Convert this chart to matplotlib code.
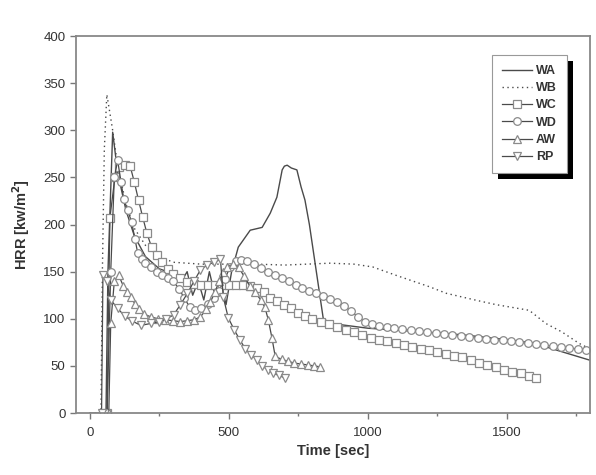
import numpy as np
import matplotlib.pyplot as plt
from matplotlib.patches import Rectangle
from matplotlib.ticker import MultipleLocator

plt.rcParams['font.family'] = ['Liberation Sans', 'DejaVu Sans']

# WA - solid line
wa_t = [0, 50, 58, 65, 82, 100, 130, 160, 200, 250, 300, 330, 350, 370, 390, 410,
        430, 450, 470, 490, 510, 534, 577, 620, 649, 673, 692, 700, 710, 725, 745,
        760, 774, 790, 821, 840, 870, 1000, 1100, 1200, 1340, 1500, 1600, 1699, 1800]
wa_v = [0, 0, 0, 150, 298, 255, 215, 188, 166, 153, 148, 140, 150, 125, 140, 120,
        150, 125, 140, 115, 150, 176, 194, 197, 212, 229, 258, 262, 263, 260, 258,
        240, 226, 200, 138, 100, 95, 90, 88, 86, 83, 78, 74, 65, 56]

# WB - dotted line
wb_t = [0, 40, 45, 52, 61, 70, 82, 100, 130, 160, 200, 250, 300, 400, 500, 600,
        700, 864, 950, 1018, 1103, 1222, 1283, 1400, 1462, 1581, 1641, 1699, 1760, 1800]
wb_v = [0, 0, 150, 280, 338, 322, 300, 262, 222, 196, 178, 166, 160, 158, 158, 158,
        157, 159, 158, 155, 146, 134, 127, 119, 115, 109, 95, 86, 74, 68]

# WC - squares
wc_t = [62, 72, 90, 105, 125, 145, 160, 175, 190, 205, 222, 240, 260, 280, 300, 325,
        350, 375, 400, 425, 450, 475, 500, 525, 550, 575, 600, 625, 650, 675, 700,
        725, 750, 775, 800, 830, 860, 890, 920, 950, 980, 1010, 1040, 1070, 1100,
        1130, 1160, 1190, 1220, 1250, 1280, 1310, 1340, 1370, 1400, 1430, 1460,
        1490, 1520, 1550, 1580, 1605]
wc_v = [0, 207, 250, 261, 263, 262, 245, 226, 208, 191, 176, 168, 160, 153, 148, 143,
        139, 137, 136, 136, 136, 136, 136, 136, 136, 135, 133, 128, 122, 119, 115,
        111, 106, 103, 100, 97, 94, 91, 88, 86, 83, 80, 78, 76, 74,
        72, 70, 68, 67, 65, 63, 61, 59, 56, 53, 51, 49,
        46, 44, 42, 39, 37]

# WD - circles
wd_t = [62, 75, 88, 100, 112, 122, 136, 150, 162, 172, 186, 200, 219, 240, 260, 280,
        300, 320, 340, 360, 380, 400, 425, 446, 465, 485, 505, 525, 545, 565, 590,
        615, 640, 665, 690, 715, 740, 765, 790, 815, 840, 865, 890, 915, 940, 965,
        990, 1015, 1040, 1068, 1095, 1125, 1155, 1185, 1215, 1245, 1275, 1305, 1335,
        1365, 1395, 1425, 1455, 1485, 1515, 1545, 1575, 1605, 1635, 1665, 1695, 1725,
        1755, 1785]
wd_v = [0, 150, 250, 268, 245, 227, 215, 203, 185, 170, 163, 159, 155, 150, 146, 143,
        140, 132, 122, 112, 109, 111, 116, 122, 130, 142, 155, 161, 162, 161, 158,
        154, 150, 146, 143, 140, 136, 133, 130, 127, 124, 121, 118, 114, 108, 102,
        97, 94, 92, 91, 90, 89, 88, 87, 86, 85, 84, 83, 82,
        81, 80, 79, 78, 77, 76, 75, 74, 73, 72, 71, 70, 69,
        68, 67]

# AW - up triangles
aw_t = [68, 75, 88, 104, 120, 135, 147, 162, 178, 195, 219, 245, 270, 298, 326, 350,
        375, 398, 418, 434, 450, 465, 480, 495, 515, 535, 555, 575, 595, 615, 630,
        642, 655, 667, 690, 712, 735, 760, 785, 808, 828]
aw_v = [0, 95, 140, 146, 135, 128, 123, 116, 110, 105, 102, 100, 99, 98, 97, 98,
        99, 102, 110, 118, 128, 140, 150, 155, 158, 155, 145, 135, 128, 120, 112,
        99, 80, 60, 57, 55, 53, 52, 51, 50, 49]

# RP - down triangles
rp_t = [42, 47, 60, 75, 100, 125, 150, 183, 219, 250, 275, 301, 326, 351, 375, 398,
        422, 446, 470, 480, 498, 520, 541, 560, 580, 602, 620, 640, 660, 680, 702]
rp_v = [0, 146, 140, 120, 111, 103, 98, 93, 95, 97, 100, 104, 115, 127, 140, 152,
        157, 160, 163, 123, 101, 88, 77, 68, 62, 56, 50, 46, 42, 40, 37]

line_col = '#4a4a4a'
mk_col = '#8a8a8a'

fig = plt.figure(figsize=(5.96, 4.75), dpi=100)
ax = fig.add_axes([0.1275, 0.1305, 0.8625, 0.7935])

ax.plot(wa_t, wa_v, color=line_col, lw=1.0, label='WA')
ax.plot(wb_t, wb_v, color=line_col, lw=1.0, ls=(0, (1, 2.5)), label='WB')
mk = dict(color=line_col, lw=0.9, markersize=5.5, markerfacecolor='white',
          markeredgecolor=mk_col, markeredgewidth=0.9)
ax.plot(wc_t, wc_v, marker='s', label='WC', **mk)
ax.plot(wd_t, wd_v, marker='o', label='WD', **mk)
ax.plot(aw_t, aw_v, marker='^', label='AW', **mk)
ax.plot(rp_t, rp_v, marker='v', label='RP', **mk)

ax.set_xlim(-50, 1800)
ax.set_ylim(0, 400)
ax.xaxis.set_major_locator(MultipleLocator(500))
ax.xaxis.set_minor_locator(MultipleLocator(250))
ax.yaxis.set_major_locator(MultipleLocator(50))
for s in ax.spines.values():
    s.set_color('#888888')
    s.set_linewidth(1.3)
ax.tick_params(which='both', direction='out', color='#777777', labelcolor='#333333',
               labelsize=9.5, width=1.0)
ax.tick_params(which='major', length=4)
ax.tick_params(which='minor', length=2.5)
ax.tick_params(axis='x', pad=6)

ax.set_xlabel('Time [sec]', fontsize=10.5, fontweight='bold', color='#333333', labelpad=4)
ax.set_ylabel('HRR [kw/m$^\\mathbf{2}$]', fontsize=10.5, fontweight='bold', color='#333333',
              labelpad=8)

leg = ax.legend(loc='upper right', bbox_to_anchor=(0.955, 0.95), borderaxespad=0,
                fancybox=False, framealpha=1, edgecolor='#999999', handlelength=2.4,
                borderpad=0.8, labelspacing=0.42, handletextpad=0.3,
                prop={'size': 9, 'weight': 'bold'})
leg.get_frame().set_linewidth(0.8)
for t in leg.get_texts():
    t.set_color('#333333')

fig.canvas.draw()
bb = leg.get_window_extent().transformed(fig.transFigure.inverted())
shadow = Rectangle((bb.x0 + 6 / 596, bb.y0 - 6 / 475), bb.width, bb.height,
                   transform=fig.transFigure, facecolor='black', edgecolor='none',
                   zorder=leg.get_zorder() - 0.5)
ax.add_artist(shadow)
shadow.set_clip_on(False)
leg.set_zorder(10)

fig.savefig('out.png', dpi=100)
